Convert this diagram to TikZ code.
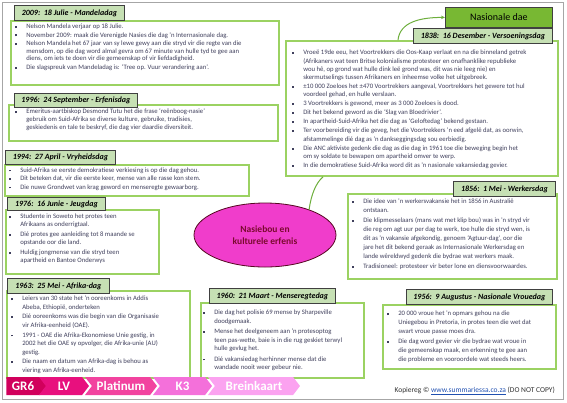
\documentclass[tikz,border=0pt]{standalone}
\usepackage{fontspec}
\setmainfont{Carlito}
\usetikzlibrary{arrows.meta, positioning, shapes.geometric, shapes.symbols}
\definecolor{kgreen}{HTML}{9BD262}
\definecolor{ktitle}{HTML}{C6E0B4}
\definecolor{knat}{HTML}{78B833}
\definecolor{kline}{HTML}{6DAE3C}
\definecolor{khub}{HTML}{F03DCB}
\definecolor{khubtxt}{HTML}{7A0A2E}
\definecolor{ktext}{HTML}{3F3F5C}
\definecolor{kurl}{HTML}{1F4FB0}
\definecolor{gra}{HTML}{D1005C}
\definecolor{grb}{HTML}{E8107E}
\definecolor{grc}{HTML}{F2439F}
\definecolor{grd}{HTML}{F470DA}
\definecolor{gre}{HTML}{FBA2F0}

\newcommand{\blt}{\raisebox{0.7pt}{\rule{1.9pt}{1.9pt}}}
\newcommand{\blist}[2]{\fontsize{6.7}{#1}\selectfont\begin{tabular}{@{}l@{\hspace{9.2pt}}l@{}}#2\end{tabular}}

\begin{document}
\begin{tikzpicture}[x=1pt, y=-1pt,
    panel/.style={draw=kgreen, line width=1.8pt, fill=white, inner sep=0pt, anchor=north west},
    daytitle/.style={draw=black!75, line width=0.8pt, fill=ktitle, inner sep=0pt, anchor=north west,
                     font=\fontsize{8}{9}\selectfont\bfseries\itshape},
    listtext/.style={inner sep=0pt, anchor=north west, text=ktext},
    barseg/.style={signal, signal to=east, signal pointer angle=105, inner sep=0pt,
                   minimum height=18pt, text=white, font=\fontsize{13}{14}\selectfont\bfseries}
  ]
    \useasboundingbox (0,0) rectangle (567,402);
    \draw[black!35, line width=0.8pt] (2,2) rectangle (563,399);

    % frames
    \node[panel, minimum width=268pt, minimum height=64pt] (b-mandela) at (10,20) {};
    \node[panel, minimum width=269pt, minimum height=36pt] (b-erfenis) at (8,104) {};
    \node[panel, minimum width=244pt, minimum height=31pt] (b-vryheid) at (4,164) {};
    \node[panel, minimum width=153pt, minimum height=64pt] (b-jeug) at (5,209) {};
    \node[panel, minimum width=183pt, minimum height=87pt] (b-afrika) at (6,290) {};
    \node[panel, minimum width=163pt, minimum height=75pt] (b-mensereg) at (200,302) {};
    \node[panel, minimum width=272pt, minimum height=135pt] (b-vers) at (285,40) {};
    \node[panel, minimum width=209pt, minimum height=85pt] (b-werkers) at (347,193) {};
    \node[panel, minimum width=173pt, minimum height=64pt] (b-vroue) at (382,304) {};

    % lists
    \node[listtext] (l-mandela) at (15,23.4) {\blist{7.3}{%
      \blt & Nelson Mandela verjaar op 18 Julie.\\[1pt]
      \blt & November 2009: maak die Verenigde Nasies die dag 'n Internasionale dag.\\[1.5pt]
      \blt & Nelson Mandela het 67 jaar van sy lewe gewy aan die stryd vir die regte van die\\
           & mensdom, op die dag word almal gevra om 67 minute van hulle tyd te gee aan\\
           & diens, om iets te doen vir die gemeenskap of vir liefdadigheid.\\[2pt]
      \blt & Die slagspreuk van Mandeladag is: `Tree op. Vuur verandering aan'.}};
    \node[listtext] (l-erfenis) at (15,107.9) {\blist{8}{%
      \blt & Emeritus-aartbiskop Desmond Tutu het die frase `reënboog-nasie'\\
           & gebruik om Suid-Afrika se diverse kulture, gebruike, tradisies,\\
           & geskiedenis en tale te beskryf, die dag vier daardie diversiteit.}};
    \node[listtext] (l-vryheid) at (9,166) {\blist{8.5}{%
      \blt & Suid-Afrika se eerste demokratiese verkiesing is op die dag gehou.\\
      \blt & Dit beteken dat, vir die eerste keer, mense van alle rasse kon stem.\\
      \blt & Die nuwe Grondwet van krag geword en menseregte gewaarborg.}};
    \node[listtext] (l-jeug) at (9,212.9) {\blist{8}{%
      \blt & Studente in Soweto het protes teen\\
           & Afrikaans as onderrigtaal.\\[2pt]
      \blt & Dié protes gee aanleiding tot 8 maande se\\
           & opstande oor die land.\\[2pt]
      \blt & Huldig jongmense van die stryd teen\\
           & apartheid en Bantoe Onderwys}};
    \node[listtext] (l-afrika) at (11,294.5) {\blist{8.6}{%
      \blt & Leiers van 30 state het 'n ooreenkoms in Addis\\
           & Abeba, Ethiopië, onderteken\\[1pt]
      \blt & Dié ooreenkoms was die begin van die Organisasie\\
           & vir Afrika-eenheid (OAE).\\[1pt]
      \blt & 1991 - OAE die Afrika-Ekonomiese Unie gestig, in\\
           & 2002 het die OAE sy opvolger, die Afrika-unie (AU)\\
           & gestig.\\[1pt]
      \blt & Die naam en datum van Afrika-dag is behou as\\
           & viering van Afrika-eenheid.}};
    \node[listtext] (l-mensereg) at (203,308.5) {\blist{8.5}{%
      \blt & Die dag het polisie 69 mense by Sharpeville\\
           & doodgemaak.\\[2pt]
      \blt & Mense het deelgeneem aan 'n protesoptog\\
           & teen pas-wette, baie is in die rug geskiet terwyl\\
           & hulle gevlug het.\\[2pt]
      \blt & Dié vakansiedag herhinner mense dat die\\
           & wandade nooit weer gebeur nie.}};
    \node[listtext] (l-vers) at (292,48.7) {\blist{8.3}{%
      \blt & Vroeë 19de eeu, het Voortrekkers die Oos-Kaap verlaat en na die binneland getrek\\
           & (Afrikaners wat teen Britse kolonialisme protesteer en onafhanklike republieke\\
           & wou hê, op grond wat hulle dink leë grond was, dit was nie leeg nie) en\\
           & skermutselings tussen Afrikaners en inheemse volke het uitgebreek.\\[0.7pt]
      \blt & ±10 000 Zoeloes het ±470 Voortrekkers aangeval, Voortrekkers het gewere tot hul\\
           & voordeel gehad, en hulle verslaan.\\[0.7pt]
      \blt & 3 Voortrekkers is gewond, meer as 3 000 Zoeloes is dood.\\[0.7pt]
      \blt & Dit het bekend geword as die `Slag van Bloedrivier'.\\[0.7pt]
      \blt & In apartheid-Suid-Afrika het die dag as `Geloftedag' bekend gestaan.\\[0.7pt]
      \blt & Ter voorbereiding vir die geveg, het die Voortrekkers 'n eed afgelê dat, as oorwin,\\
           & afstammelinge dié dag as 'n dankseggingsdag sou eerbiedig.\\[0.7pt]
      \blt & Die ANC aktiviste gedenk die dag as die dag in 1961 toe die beweging begin het\\
           & om sy soldate te bewapen om apartheid omver te werp.\\[0.7pt]
      \blt & In die demokratiese Suid-Afrika word dit as 'n nasionale vakansiedag gevier.}};
    \node[listtext] (l-werkers) at (352,197.2) {\blist{9}{%
      \blt & Die idee van 'n werkersvakansie het in 1856 in Australië\\
           & ontstaan.\\[1pt]
      \blt & Die klipmesselaars (mans wat met klip bou) was in 'n stryd vir\\
           & die reg om agt uur per dag te werk, toe hulle die stryd wen, is\\
           & dit as 'n vakansie afgekondig, genoem `Agtuur-dag', oor die\\
           & jare het dit bekend geraak as Internasionale Werkersdag en\\
           & lande wêreldwyd gedenk die bydrae wat werkers maak.\\[1pt]
      \blt & Tradisioneel: protesteer vir beter lone en diensvoorwaardes.}};
    \node[listtext] (l-vroue) at (387,309.2) {\blist{9}{%
      \blt & 20 000 vroue het 'n opmars gehou na die\\
           & Uniegebou in Pretoria, in protes teen die wet dat\\
           & swart vroue passe moes dra.\\[0.5pt]
      \blt & Die dag word gevier vir die bydrae wat vroue in\\
           & die gemeenskap maak, en erkenning te gee aan\\
           & die probleme en vooroordele wat steeds heers.}};

    % titles
    \node[daytitle, minimum width=110pt, minimum height=15pt] (t-mandela) at (14,5) {2009:\ \ 18 Julie - Mandeladag};
    \node[daytitle, minimum width=123pt, minimum height=14pt] (t-erfenis) at (14,93) {1996:\ \ 24 September - Erfenisdag};
    \node[daytitle, minimum width=110pt, minimum height=14pt] (t-vryheid) at (5,150) {1994:\ \ 27 April - Vryheidsdag};
    \node[daytitle, minimum width=98pt, minimum height=13pt] (t-jeug) at (7,197) {1976:\ \ 16 Junie - Jeugdag};
    \node[daytitle, minimum width=102pt, minimum height=15pt] (t-afrika) at (7,278) {1963:\ \ 25 Mei - Afrika-dag};
    \node[daytitle, minimum width=126pt, minimum height=15pt] (t-mensereg) at (209,288) {1960:\ \ 21 Maart - Menseregtedag};
    \node[daytitle, minimum width=139pt, minimum height=15pt] (t-vers) at (413,28) {1838:\ \ 16 Desember - Versoeningsdag};
    \node[daytitle, minimum width=102pt, minimum height=15pt] (t-werkers) at (453,181) {1856:\ \ 1 Mei - Werkersdag};
    \node[daytitle, minimum width=146pt, minimum height=15pt] (t-vroue) at (406,289) {1956:\ \ 9 Augustus - Nasionale Vrouedag};

    \node[draw=black!75, line width=0.8pt, fill=knat, minimum width=107pt, minimum height=20pt,
          anchor=north west, inner sep=0pt, font=\fontsize{10}{12}\selectfont] (t-nat) at (445,7) {Nasionale dae};

    % centre
    \node[ellipse, draw=khubtxt!70!black, line width=0.8pt, fill=khub, minimum width=142pt, minimum height=64pt,
          align=center, text=khubtxt, font=\fontsize{9.5}{12}\selectfont\bfseries] (hub) at (265,235) {Nasiebou en\\kulturele erfenis};

    \draw[kline, line width=1pt, -{Stealth[length=4pt, width=3.5pt]}]
      ([xshift=113pt]b-vers.north west) .. controls +(2,-18) and +(-25,0) .. (t-nat.west);
    \draw[kline, line width=1pt]
      (hub.30) .. controls +(2,-15) and +(-7,6) .. ([xshift=38pt]b-vers.south west);

    % bottom bar
    \node[barseg, fill=gra, minimum width=40pt] (s-gr6) at (23,386) {GR6};
    \node[barseg, fill=grb, signal from=west, minimum width=50pt] (s-lv) at (64,386) {LV};
    \node[barseg, fill=grc, signal from=west, minimum width=72pt] (s-plat) at (121,386) {Platinum};
    \node[barseg, fill=grd, signal from=west, minimum width=59pt] (s-k3) at (182.5,386) {K3};
    \node[barseg, fill=gre, signal from=west, minimum width=92pt] (s-brein) at (254,386) {Breinkaart};

    \node[anchor=east, inner sep=0pt, text=black!80, font=\fontsize{7.5}{9}\selectfont] (copy) at (555,391)
      {Kopiereg © \textcolor{kurl}{\underline{www.summariessa.co.za}} (DO NOT COPY)};
\end{tikzpicture}
\end{document}
